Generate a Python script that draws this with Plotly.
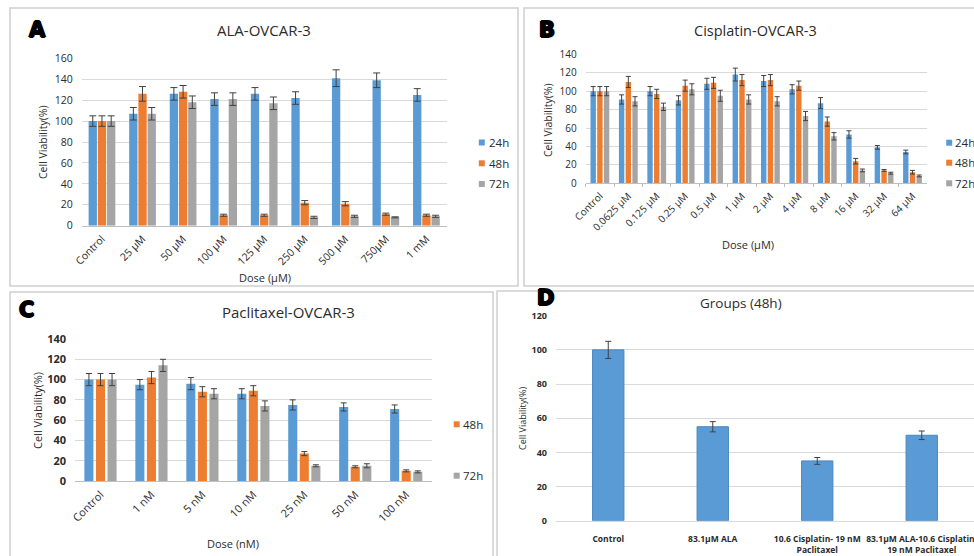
import plotly.graph_objects as go

# ---------------- data ----------------
A_cats = ["Control", "25 µM", "50 µM", "100 µM", "125 µM", "250 µM", "500 µM", "750µM", "1 mM"]
A_24 = [100, 107, 126, 121, 126, 122, 141, 139, 125]
A_24_err = [5, 6, 6, 6, 6, 6, 8, 7, 6]
A_48 = [100, 126, 128, 10, 10, 22, 21, 11, 10]
A_48_err = [5, 7, 6, 1, 1, 2, 2, 1, 1]
A_72 = [100, 107, 118, 121, 117, 8, 9, 8, 9]
A_72_err = [5, 6, 6, 6, 6, 1, 1, 0.5, 1]

B_cats = ["Control", "0.0625 µM", "0.125 µM", "0.25 µM", "0.5 µM", "1 µM", "2 µM",
          "4 µM", "8 µM", "16 µM", "32 µM", "64 µM"]
B_24 = [100, 91, 100, 90, 108, 118, 111, 102, 87, 53, 39, 34]
B_24_err = [5, 5, 5, 5, 6, 7, 6, 5, 6, 4, 2, 2]
B_48 = [100, 110, 97, 106, 109, 112, 112, 106, 67, 24, 14, 12]
B_48_err = [5, 6, 5, 6, 6, 6, 6, 5, 5, 3, 1, 2]
B_72 = [100, 89, 83, 102, 95, 91, 89, 73, 51, 14, 11, 8]
B_72_err = [5, 5, 4, 6, 6, 5, 5, 5, 4, 1.5, 1, 1]

C_cats = ["Control", "1 nM", "5 nM", "10 nM", "25 nM", "50 nM", "100 nM"]
C_24 = [100, 95, 96, 86, 75, 73, 71]
C_24_err = [6, 5, 6, 5, 5, 4, 4]
C_48 = [100, 102, 88, 89, 27, 14, 10]
C_48_err = [6, 6, 5, 5, 2, 1, 1]
C_72 = [100, 114, 86, 74, 15, 15, 9]
C_72_err = [6, 6, 5, 5, 1, 2, 1]

D_cats = ["Control", "83.1µM ALA", "10.6 Cisplatin- 19 nM<br>Paclitaxel",
          "83.1µM ALA-10.6 Cisplatin-<br>19 nM Paclitaxel"]
D_vals = [100, 55, 35, 50]
D_err = [5, 3, 2, 2.5]

series_names = ["24h", "48h", "72h"]
colors = ["#5B9BD5", "#ED7D31", "#A5A5A5"]

# ---------------- layout helpers ----------------
W, H = 974, 556
FONT = "Open Sans"
TXT = "#2B2B2B"
GRID = "#D9D9D9"


def px(x):
    return x / W


def py(y):
    return 1 - y / H


fig = go.Figure()


def add_group(cats, series, errs, xa, ya, w, step, cap):
    for i, (vals, err) in enumerate(zip(series, errs)):
        shift = (i - 1) * step
        fig.add_trace(go.Bar(
            x=cats, y=vals, width=w, offset=shift - w / 2,
            marker=dict(color=colors[i], line=dict(width=0)),
            error_y=dict(type="data", array=err, color="#404040", thickness=1, width=cap),
            xaxis=xa, yaxis=ya, name=series_names[i], showlegend=False,
        ))


add_group(A_cats, [A_24, A_48, A_72], [A_24_err, A_48_err, A_72_err], "x", "y", 0.205, 0.227, 3.5)
add_group(B_cats, [B_24, B_48, B_72], [B_24_err, B_48_err, B_72_err], "x2", "y2", 0.19, 0.236, 2.5)
add_group(C_cats, [C_24, C_48, C_72], [C_24_err, C_48_err, C_72_err], "x3", "y3", 0.178, 0.227, 3)

fig.add_trace(go.Bar(
    x=D_cats, y=D_vals, width=0.30,
    marker=dict(color="#5B9BD5", line=dict(color="#4A86C0", width=1)),
    error_y=dict(type="data", array=D_err, color="#404040", thickness=1, width=3),
    xaxis="x4", yaxis="y4", showlegend=False, name="48h",
))


def xax(dom, size, anchor, ticks=False, angle=-45, standoff=2, bold=False):
    d = dict(domain=dom, type="category", showgrid=False, zeroline=False,
             showline=True, linecolor="#BFBFBF", linewidth=1, anchor=anchor,
             tickangle=angle,
             tickfont=dict(family=FONT, size=size, color=TXT,
                           weight="bold" if bold else "normal"),
             fixedrange=True, ticklabelstandoff=standoff, automargin=False)
    if ticks:
        d.update(ticks="outside", tickson="boundaries", ticklen=3, tickcolor="#BFBFBF")
    else:
        d.update(ticks="")
    return d


def yax(dom, rng, dtick, size, anchor, bold=False):
    return dict(domain=dom, range=rng, dtick=dtick, showgrid=True, gridcolor=GRID,
                gridwidth=1, zeroline=False, showline=False, anchor=anchor,
                tickfont=dict(family=FONT, size=size, color=TXT,
                              weight="bold" if bold else "normal"),
                ticklabelstandoff=8, fixedrange=True, automargin=False)


xa4 = xax([px(556), 1.0], 8.5, "y4", angle=0, standoff=10, bold=True)
xa4["linecolor"] = GRID

fig.update_layout(
    width=W, height=H, autosize=False,
    margin=dict(l=0, r=0, t=0, b=0, autoexpand=False),
    paper_bgcolor="white", plot_bgcolor="white",
    barmode="overlay", showlegend=False,
    font=dict(family=FONT, color=TXT),
    xaxis=xax([px(81.7), px(446.7)], 10.5, "y"),
    yaxis=yax([py(225.7), py(58.3)], [0, 160], 20, 10.5, "x"),
    xaxis2=xax([px(585.7), px(926.7)], 10, "y2", ticks=True),
    yaxis2=yax([py(183.3), py(54.3)], [0, 140], 20, 10, "x2"),
    xaxis3=xax([px(75), px(431.7)], 11, "y3"),
    yaxis3=yax([py(481), py(339)], [0, 140], 20, 11, "x3", bold=True),
    xaxis4=xa4,
    yaxis4=yax([py(520.7), py(315.7)], [0, 120], 20, 9, "x4", bold=True),
)

shapes = []
ann = []

# panel frames
for x0, y0, x1, y1 in [(10, 8, 518, 286), (524, 8, 985, 286), (10, 292, 493, 565), (497, 291, 985, 565)]:
    shapes.append(dict(type="rect", xref="paper", yref="paper", x0=px(x0), x1=px(x1),
                       y0=py(y0), y1=py(y1), line=dict(color="#D0D0D0", width=1.5),
                       fillcolor="rgba(0,0,0,0)", layer="below"))


def text(x, y, t, size, angle=0, bold=False, color=TXT, family=FONT, xanchor="center", shadow=None):
    f = dict(family=family, size=size, color=color, weight="bold" if bold else "normal")
    if shadow:
        f["shadow"] = shadow
    ann.append(dict(x=px(x), y=py(y), xref="paper", yref="paper", text=t, showarrow=False,
                    xanchor=xanchor, yanchor="middle", textangle=angle, font=f))


# panel letters
heavy = "0.9px 0 0 #000, -0.9px 0 0 #000, 0 0.7px 0 #000, 0 -0.7px 0 #000"
for (x, y, L) in [(37.5, 29.5, "A"), (546.7, 30.5, "B"), (26.7, 310, "C"), (545, 298, "D")]:
    text(x, y, L, 21, bold=True, color="#000000", family="DejaVu Sans", shadow=heavy)

# titles
text(263.5, 29.5, "ALA-OVCAR-3", 15)
text(755, 30, "Cisplatin-OVCAR-3", 14.5)
text(288, 312, "Paclitaxel-OVCAR-3", 15)
text(741, 303, "Groups (48h)", 13.5)

# axis titles
text(43, 142, "Cell Viability(%)", 10.5, angle=-90)
text(265, 277, "Dose (µM)", 11)
text(548, 120, "Cell Viability(%)", 10.5, angle=-90)
text(748, 245, "Dose (µM)", 11)
text(37, 411, "Cell Viability(%)", 11, angle=-90)
text(233, 543, "Dose (nM)", 11)
text(522, 419, "Cell Viability(%)", 9, angle=-90)


# legends (swatch + label)
def legend_items(xc, ys, idx, tx):
    for y, i in zip(ys, idx):
        shapes.append(dict(type="rect", xref="paper", yref="paper",
                           x0=px(xc - 3), x1=px(xc + 3), y0=py(y + 3), y1=py(y - 3),
                           fillcolor=colors[i], line=dict(width=0)))
        text(tx, y, series_names[i], 11.5, xanchor="left")


legend_items(481.8, [142.5, 163.3, 184], [0, 1, 2], 486.5)
legend_items(949.2, [142.7, 162.7, 183.3], [0, 1, 2], 952.5)
legend_items(456.7, [424.3, 475.7], [1, 2], 460.5)

fig.update_layout(shapes=shapes, annotations=ann)
fig.write_html("out.html", config={"displayModeBar": False},
               post_script="document.body.style.margin='0';document.body.style.overflow='hidden';")
